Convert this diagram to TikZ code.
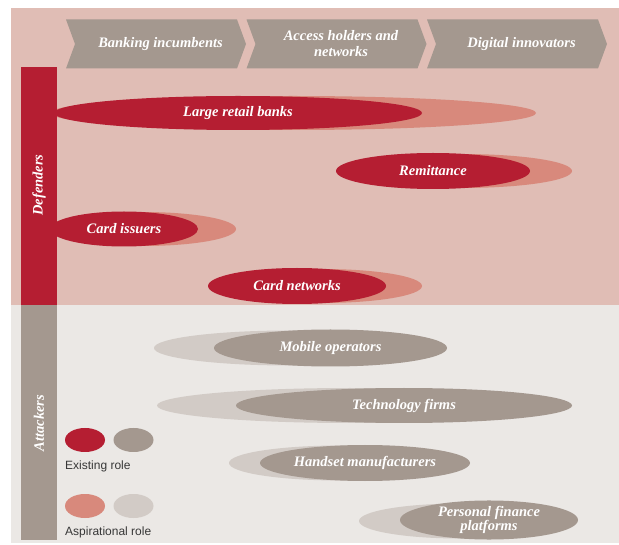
\documentclass[tikz,border=0pt]{standalone}
\usepackage{fontspec}
\setmainfont{Liberation Serif}
\newfontfamily\legendfont{Liberation Sans}
\usetikzlibrary{shapes.geometric}

\definecolor{pwcred}{RGB}{181,30,50}
\definecolor{pwcsalmon}{RGB}{216,137,124}
\definecolor{pwcpink}{RGB}{224,189,181}
\definecolor{pwctaupe}{RGB}{164,152,143}
\definecolor{pwcstone}{RGB}{210,203,198}
\definecolor{pwcmist}{RGB}{235,232,229}
\definecolor{pwcink}{RGB}{55,55,55}

\tikzset{
  label font/.style={
    font=\bfseries\itshape\fontsize{14.5}{15.7}\selectfont,
    text=white, align=center,
  },
  stage/.style={label font, inner sep=0pt},
  side/.style={label font, inner sep=0pt, rotate=90},
  role/.style={ellipse, inner sep=0pt, label font},
  existing def/.style={role, fill=pwcred},
  aspiring def/.style={role, fill=pwcsalmon},
  existing att/.style={role, fill=pwctaupe},
  aspiring att/.style={role, fill=pwcstone},
  key/.style={ellipse, inner sep=0pt, minimum width=40pt, minimum height=24pt},
  key text/.style={anchor=west, inner sep=0pt, text=pwcink,
    font=\legendfont\fontsize{12}{13}\selectfont},
}

\begin{document}
\begin{tikzpicture}[x=1pt,y=-1pt] % roles of defenders and attackers
    \useasboundingbox (0,0) rectangle (619,545);

    % background bands
    \fill[pwcpink] (10.5,8.5) rectangle (619,305);
    \fill[pwcmist] (10.5,305) rectangle (619,543);

    % chevrons along the top
    \foreach \x/\name/\txt in {66/bank/{Banking incumbents},
                                246.5/access/{Access holders and\\networks},
                                427/digital/{Digital innovators}}{
        \fill[pwctaupe] (\x,19.5) -- ++(171,0) -- ++(9,24.5) -- ++(-9,24.5)
            -- ++(-171,0) -- ++(9,-24.5) -- cycle;
        \node[stage] (\name) at (\x+94.5,43.8) {\txt};
    }

    % defenders: aspirational role first, existing role on top
    \foreach \name/\cx/\cy/\w in {banks/293/113/486, remit/462/171/220,
                                  issuers/143/229/186, networks/322/286/200}
        \node[aspiring def, minimum width=\w pt, minimum height=34pt]
            (\name asp) at (\cx,\cy) {};

    \node[existing def, minimum width=368pt, minimum height=34pt]
        (banks) at (238,113) {Large retail banks};
    \node[existing def, minimum width=194pt, minimum height=36pt]
        (remit) at (433,171) {Remittance};
    \node[existing def, minimum width=148pt, minimum height=35pt]
        (issuers) at (124,229) {Card issuers};
    \node[existing def, minimum width=178pt, minimum height=36pt]
        (networks) at (297,286) {Card networks};

    % attackers
    \foreach \name/\cx/\cy/\w in {mobile/290/348/272, tech/350/405.5/386,
                                  handset/340/463/222, finance/460/521/202}
        \node[aspiring att, minimum width=\w pt, minimum height=35pt]
            (\name asp) at (\cx,\cy) {};

    \node[existing att, minimum width=233pt, minimum height=37pt]
        (mobile) at (330.5,348) {Mobile operators};
    \node[existing att, minimum width=336pt, minimum height=35pt]
        (tech) at (404,405.5) {Technology firms};
    \node[existing att, minimum width=210pt, minimum height=36pt]
        (handset) at (365,463) {Handset manufacturers};
    \node[existing att, minimum width=178pt, minimum height=37pt,
          font=\bfseries\itshape\fontsize{14.5}{12.7}\selectfont]
        (finance) at (489,520) {Personal finance\\platforms};

    % side bars
    \fill[pwcred] (21,67) rectangle (57,305);
    \fill[pwctaupe] (21,305) rectangle (57,540);
    \node[side] (defenders) at (39,185) {Defenders};
    \node[side] (attackers) at (39,423) {Attackers};

    % legend
    \node[key, fill=pwcred]    (key red)    at (85,440)    {};
    \node[key, fill=pwctaupe]  (key taupe)  at (133.5,440) {};
    \node[key text] (key existing) at (65,466) {Existing role};
    \node[key, fill=pwcsalmon] (key salmon) at (85,506)    {};
    \node[key, fill=pwcstone]  (key stone)  at (133.5,506) {};
    \node[key text] (key aspiring) at (65,532) {Aspirational role};
\end{tikzpicture}
\end{document}
